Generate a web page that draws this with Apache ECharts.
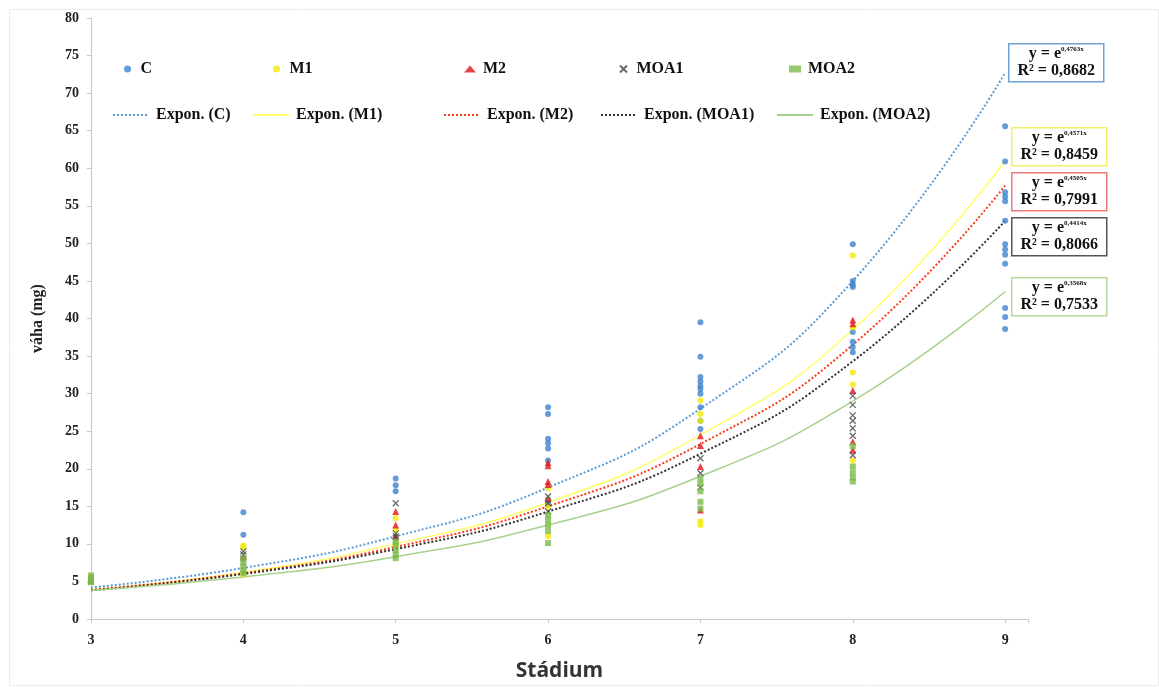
<!DOCTYPE html>
<html><head><meta charset="utf-8">
<script src="https://cdn.jsdelivr.net/npm/echarts@6/dist/echarts.min.js"></script>
<style>html,body{margin:0;padding:0;background:#fff}#c{width:1159px;height:687px}</style>
</head><body><div id="c"></div>
<script>
// Scatter observations [stadium, weight mg]
var dataC = [[3,5.2],[4,14.2],[4,11.2],[4,8.0],[5,18.7],[5,17.8],[5,17.0],[5,10.7],
  [6,28.2],[6,27.3],[6,24.0],[6,23.4],[6,22.7],[6,21.1],[6,15.4],
  [7,39.5],[7,34.9],[7,32.2],[7,31.6],[7,31.0],[7,30.6],[7,30.0],[7,28.2],[7,26.4],[7,25.3],
  [8,49.9],[8,45.0],[8,44.5],[8,44.2],[8,38.2],[8,36.9],[8,36.2],[8,35.5],
  [9,65.6],[9,60.9],[9,56.8],[9,56.2],[9,55.6],[9,53.0],[9,49.9],[9,49.2],[9,48.5],[9,47.3],[9,41.4],[9,40.2],[9,38.6]];
var dataM1 = [[3,5.4],[4,9.8],[4,9.6],[4,5.9],[5,13.4],[5,11.8],[5,10.0],
  [6,17.4],[6,15.0],[6,11.0],[7,29.1],[7,27.3],[7,26.4],[7,13.0],[7,12.5],
  [8,48.4],[8,38.8],[8,32.8],[8,31.2],[8,21.1]];
var dataM2 = [[3,5.3],[4,8.3],[5,14.3],[5,12.5],[5,11.0],[6,20.8],[6,20.4],[6,18.3],[6,17.9],[6,16.0],
  [7,24.4],[7,23.1],[7,20.3],[7,14.5],[8,39.8],[8,39.3],[8,30.4],[8,23.6],[8,22.5]];
var dataMOA1 = [[3,5.0],[4,9.0],[4,8.6],[5,15.4],[5,11.4],[5,11.0],[6,16.3],[6,15.4],[6,14.3],
  [7,21.4],[7,19.4],[7,17.5],[8,29.7],[8,28.5],[8,27.1],[8,26.4],[8,25.4],[8,24.4],[8,21.8]];
var dataMOA2 = [[3,5.8],[3,5.5],[3,5.2],[3,4.9],[4,8.1],[4,7.5],[4,7.0],[4,6.5],[4,6.1],
  [5,10.3],[5,9.8],[5,9.2],[5,8.6],[5,8.1],[6,13.8],[6,13.2],[6,12.5],[6,11.7],[6,10.1],
  [7,18.7],[7,18.0],[7,17.0],[7,15.6],[7,14.7],[8,23.0],[8,20.3],[8,19.5],[8,18.8],[8,18.3]];
// Trend curves at each stadium
var stages = [3,4,5,6,7,8,9];
var trendC = [4.2,6.8,11.0,17.5,28.0,45.0,72.7];
var trendM1 = [3.9,6.2,10.0,15.5,24.5,38.5,61.0];
var trendM2 = [3.9,6.1,9.6,15.0,23.3,36.5,57.7];
var trendMOA1 = [3.8,6.0,9.3,14.3,22.0,34.3,53.0];
var trendMOA2 = [3.8,5.6,8.3,12.5,19.0,29.0,43.6];
var equations = [
  {exp:'0,4763x', r2:'0,8682', color:'#6fa3d6'},
  {exp:'0,4571x', r2:'0,8459', color:'#f3ee6a'},
  {exp:'0,4505x', r2:'0,7991', color:'#ee7b7b'},
  {exp:'0,4414x', r2:'0,8066', color:'#555555'},
  {exp:'0,3568x', r2:'0,7533', color:'#b9d79b'}
];
var boxTops = [43,127,172,217,277];
var boxLefts = [1008,1011,1011,1011,1011];

function pairs(ys){ return stages.map(function(s,i){return [s, ys[i]];}); }

var serif = 'Liberation Serif';
var xPath = 'path://M0,0L10,10M10,0L0,10';

var scatterDefs = [
  {name:'C', data:dataC, symbol:'circle', size:6, color:'#3f82cc'},
  {name:'M1', data:dataM1, symbol:'circle', size:6, color:'#f2ea00'},
  {name:'M2', data:dataM2, symbol:'triangle', size:7, color:'#e3141b'},
  {name:'MOA1', data:dataMOA1, symbol:xPath, size:6, color:'#444444', stroke:true},
  {name:'MOA2', data:dataMOA2, symbol:'rect', size:6, color:'#7cba48'}
];
var lineDefs = [
  {name:'Expon. (C)', data:trendC, color:'#5b9bd5', type:'dotted', w:2},
  {name:'Expon. (M1)', data:trendM1, color:'#ffff66', type:'solid', w:1.5},
  {name:'Expon. (M2)', data:trendM2, color:'#ff3a1a', type:'dotted', w:2},
  {name:'Expon. (MOA1)', data:trendMOA1, color:'#333333', type:'dotted', w:2},
  {name:'Expon. (MOA2)', data:trendMOA2, color:'#a9d18e', type:'solid', w:1.5}
];

var series = [];
lineDefs.forEach(function(d){
  series.push({type:'line', name:d.name, data:pairs(d.data), smooth:true, symbol:'none',
    lineStyle:{color:d.color, type:d.type, width:d.w}, itemStyle:{color:d.color}, z:2});
});
scatterDefs.forEach(function(d){
  var it = {color:d.color};
  if(d.stroke){ it.borderColor = d.color; it.borderWidth = 1.3; }
  series.push({type:'scatter', name:d.name, data:d.data, symbol:d.symbol, symbolSize:d.size, itemStyle:it, z:3});
});

var legendPos = [
  {name:'C', left:124, top:61}, {name:'M1', left:273, top:61}, {name:'M2', left:464, top:61},
  {name:'MOA1', left:619, top:61}, {name:'MOA2', left:789, top:61},
  {name:'Expon. (C)', left:112, top:107}, {name:'Expon. (M1)', left:252, top:107},
  {name:'Expon. (M2)', left:443, top:107}, {name:'Expon. (MOA1)', left:600, top:107},
  {name:'Expon. (MOA2)', left:776, top:107}
];
var legends = legendPos.map(function(p){
  var isLine = p.name.indexOf('Expon') === 0;
  var l = {data:[p.name], left:p.left, top:p.top, orient:'horizontal', padding:0,
    itemWidth: isLine ? 36 : 12, itemHeight: isLine ? 10 : 7, itemGap:0,
    textStyle:{fontFamily:serif, fontWeight:'bold', fontSize:16, color:'#111', padding:[0,0,0,2]}};
  if(isLine){ l.itemStyle = {opacity:0}; }
  return l;
});

var graphic = [{type:'rect', left:7, top:7, shape:{width:1149, height:676}, style:{fill:'none', stroke:'#ececec', lineWidth:1}, silent:true, z:-1}];
equations.forEach(function(e,i){
  graphic.push({type:'group', left:boxLefts[i], top:boxTops[i], children:[
    {type:'rect', shape:{x:0,y:0,width:95,height:38}, style:{fill:'#fff', stroke:e.color, lineWidth:1.5}},
    {type:'text', x:47.5, y:19, style:{
      text:'{b|y = e}{s|' + e.exp + '}\n{b|R² = ' + e.r2 + '}',
      align:'center', verticalAlign:'middle',
      rich:{b:{fontFamily:serif, fontWeight:'bold', fontSize:16, lineHeight:17, fill:'#111'},
            s:{fontFamily:serif, fontWeight:'bold', fontSize:7, lineHeight:17, fill:'#111', verticalAlign:'top', padding:[0,0,7,0]}}
    }}
  ]});
});

var chart = echarts.init(document.getElementById('c'), null, {renderer:'canvas'});
chart.setOption({
  animation:false,
  backgroundColor:'#fff',
  legend: legends,
  grid:{left:91, right:131, top:18, bottom:66, containLabel:false},
  xAxis:{type:'value', min:3, max:9.15, interval:1,
    name:'Stádium', nameLocation:'middle', nameGap:42,
    nameTextStyle:{fontFamily:'Open Sans', fontWeight:'bold', fontSize:21, color:'#333'},
    axisLine:{lineStyle:{color:'#c8c8c8'}}, axisTick:{lineStyle:{color:'#c8c8c8'}, length:4},
    splitLine:{show:false},
    axisLabel:{fontFamily:serif, fontWeight:'bold', fontSize:14, color:'#222', margin:14,
      formatter:function(v){ return Math.abs(v - Math.round(v)) < 1e-6 ? String(Math.round(v)) : ''; }}
  },
  yAxis:{type:'value', min:0, max:80, interval:5,
    name:'váha (mg)', nameLocation:'middle', nameGap:45,
    nameTextStyle:{fontFamily:serif, fontWeight:'bold', fontSize:16, color:'#222'},
    axisLine:{show:true, lineStyle:{color:'#c8c8c8'}}, axisTick:{show:true, lineStyle:{color:'#c8c8c8'}, length:4},
    splitLine:{show:false},
    axisLabel:{fontFamily:serif, fontWeight:'bold', fontSize:14, color:'#222', margin:12}
  },
  graphic: graphic,
  series: series
});
</script></body></html>
